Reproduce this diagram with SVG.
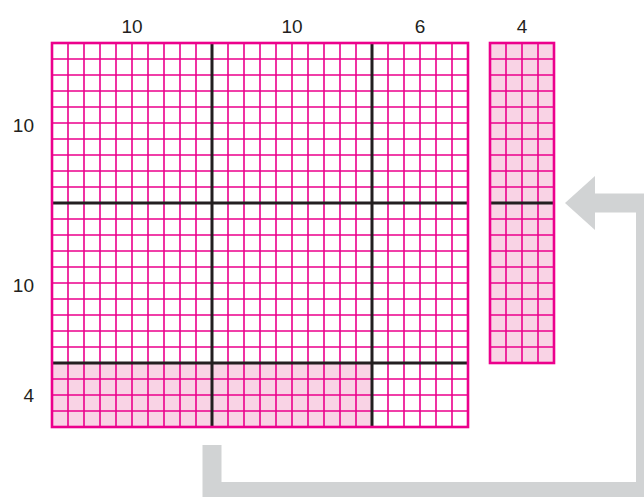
<svg xmlns="http://www.w3.org/2000/svg" width="644" height="497" viewBox="0 0 644 497">
<style>
.thin{fill:none;stroke:#ec008c;stroke-width:1.6}
.border{fill:none;stroke:#ec008c;stroke-width:2.6}
.thick{fill:none;stroke:#231f20;stroke-width:3}
.tint{fill:#f9d3e5}
.lbl{font-family:"Liberation Sans",Arial,sans-serif;font-size:19px;fill:#231f20}
.arrow{fill:none;stroke:#d1d3d4;stroke-width:19;stroke-linejoin:miter}
</style>
<rect width="644" height="497" fill="#fff"/>
<g id="connectors">
<polyline class="arrow" points="212,445 212,491.5 645.5,491.5 645.5,203 594,203"/>
<polygon points="565,203 595,176 595,230" fill="#d1d3d4"/>
</g>
<g id="main-grid">
<rect x="52" y="43" width="416" height="384" fill="#fff"/>
<rect class="tint" x="52" y="363" width="320" height="64"/>
<path class="thin" d="M68 43V427M84 43V427M100 43V427M116 43V427M132 43V427M148 43V427M164 43V427M180 43V427M196 43V427M212 43V427M228 43V427M244 43V427M260 43V427M276 43V427M292 43V427M308 43V427M324 43V427M340 43V427M356 43V427M372 43V427M388 43V427M404 43V427M420 43V427M436 43V427M452 43V427M52 59H468M52 75H468M52 91H468M52 107H468M52 123H468M52 139H468M52 155H468M52 171H468M52 187H468M52 203H468M52 219H468M52 235H468M52 251H468M52 267H468M52 283H468M52 299H468M52 315H468M52 331H468M52 347H468M52 363H468M52 379H468M52 395H468M52 411H468"/>
<path class="thick" d="M212 43V427M372 43V427M52 203H468M52 363H468"/>
<rect class="border" x="52" y="43" width="416" height="384"/>
</g>
<g id="side-grid">
<rect class="tint" x="490" y="43" width="64" height="320"/>
<path class="thin" d="M506 43V363M522 43V363M538 43V363M490 59H554M490 75H554M490 91H554M490 107H554M490 123H554M490 139H554M490 155H554M490 171H554M490 187H554M490 203H554M490 219H554M490 235H554M490 251H554M490 267H554M490 283H554M490 299H554M490 315H554M490 331H554M490 347H554"/>
<path class="thick" d="M490 203H554"/>
<rect class="border" x="490" y="43" width="64" height="320"/>
</g>
<g id="labels" text-anchor="middle">
<text class="lbl" x="132" y="33">10</text>
<text class="lbl" x="292" y="33">10</text>
<text class="lbl" x="420" y="33">6</text>
<text class="lbl" x="522" y="33">4</text>
<text class="lbl" x="34" y="132" text-anchor="end">10</text>
<text class="lbl" x="34" y="292" text-anchor="end">10</text>
<text class="lbl" x="34" y="402" text-anchor="end">4</text>
</g>
</svg>
